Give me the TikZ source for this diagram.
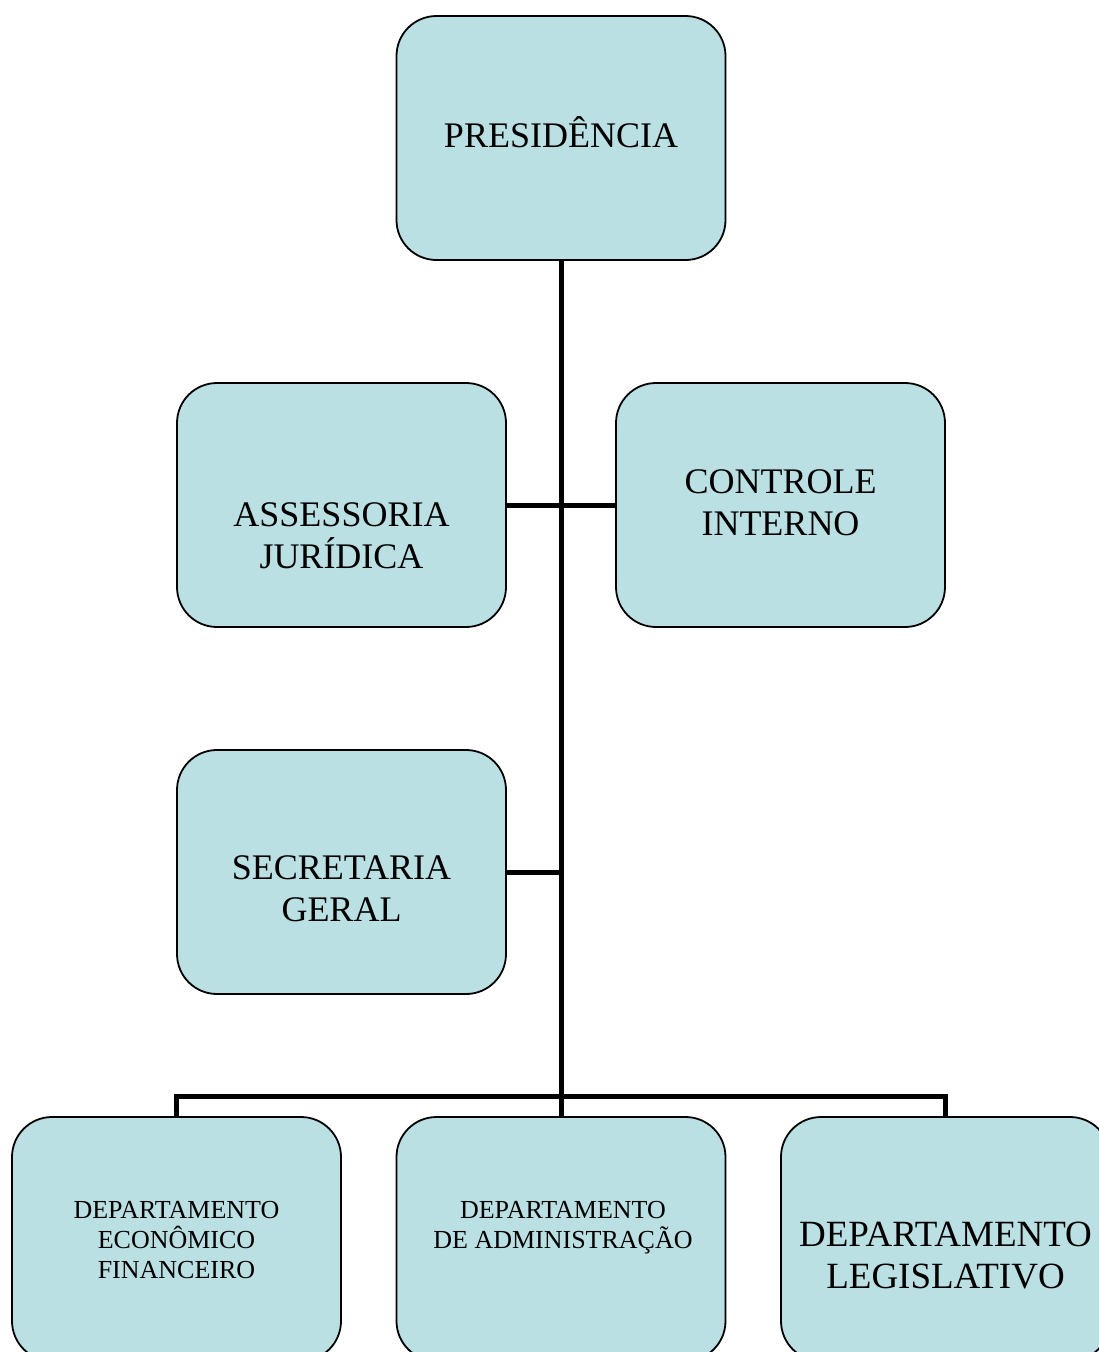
\documentclass[tikz,border=0pt]{standalone}
\usepackage{fontspec}
\setmainfont{Liberation Serif}
\usetikzlibrary{positioning,calc}
\pgfdeclarelayer{background}
\pgfsetlayers{background,main}
\definecolor{boxfill}{HTML}{BBE0E3}

\begin{document}
\begin{tikzpicture}
  [
    x = 1pt,
    y = -1pt,
    unit/.style = {
      draw,
      line width = 1.8pt,
      fill = boxfill,
      rounded corners = 40pt,
      minimum width = 329pt,
      minimum height = 244pt,
      inner sep = 0pt,
    },
    big/.style = {
      align = center,
      inner sep = 0pt,
      font = \fontsize{36}{42}\selectfont,
    },
    small/.style = {
      align = center,
      inner sep = 0pt,
      font = \fontsize{26}{30}\selectfont,
    },
    link/.style = {
      line width = 5pt,
      line join = miter,
    },
  ]

  \clip (0,0) rectangle (1099,1352);

  \node (pres)   [unit] at (561,138)   {};
  \node (assess) [unit] at (341.5,505) {};
  \node (ctrl)   [unit] at (780.5,505) {};
  \node (sec)    [unit] at (341.5,872) {};
  \node (econ)   [unit] at (176.5,1239) {};
  \node (adm)    [unit] at (561,1239)   {};
  \node (leg)    [unit] at (945.5,1239) {};

  \node (pres text)   [big] at ([yshift=6pt] pres.center)    {PRESIDÊNCIA};
  \node (assess text) [big] at ([yshift=-31pt] assess.center) {ASSESSORIA\\JURÍDICA};
  \node (ctrl text)   [big] at ([yshift=2pt] ctrl.center)    {CONTROLE\\INTERNO};
  \node (sec text)    [big] at ([yshift=-17pt] sec.center)   {SECRETARIA\\GERAL};
  \node (econ text)   [small] at ([yshift=-1pt] econ.center) {DEPARTAMENTO\\ECONÔMICO\\FINANCEIRO};
  \node (adm text)    [small] at ([xshift=2pt,yshift=11pt] adm.center) {DEPARTAMENTO\\DE ADMINISTRAÇÃO};
  \node (leg text)    [big,font=\fontsize{37}{42}\selectfont] at ([yshift=-17pt] leg.center) {DEPARTAMENTO\\LEGISLATIVO};

  \coordinate (bus) at ($ (pres.south |- adm.north) + (0,-20) $);

  \begin{pgfonlayer}{background}
    \draw [link] (pres.south) -- (adm.north);
    \draw [link] (assess.east) -- (ctrl.west);
    \draw [link] (sec.east) -- (sec.east -| pres.south);
    \draw [link] (econ.north) |- (bus) -| (leg.north);
  \end{pgfonlayer}

\end{tikzpicture}
\end{document}
